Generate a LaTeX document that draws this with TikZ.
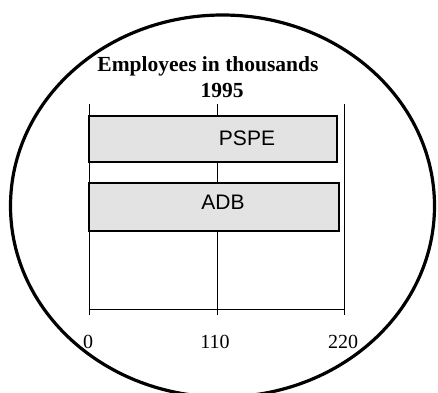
\documentclass[tikz,border=0pt]{standalone}
\usepackage{fontspec}
\setmainfont{Liberation Serif}
\newfontfamily\arialfont{Liberation Sans}
\usepackage{xcolor}
\usepackage{tikz}

\definecolor{barfill}{gray}{0.89}
\tikzset{
  grid line/.style={line width=0.6pt},
  bar/.style={draw, line width=1.1pt, fill=barfill},
  barlabel/.style={font=\arialfont\fontsize{21}{24}\selectfont},
  ticklabel/.style={anchor=base, font=\fontsize{20}{24}\selectfont},
  titlelabel/.style={anchor=base, font=\bfseries\fontsize{21.5}{25}\selectfont},
}

\begin{document}
\begin{tikzpicture}[x=1pt,y=1pt]
\useasboundingbox (0,0) rectangle (438,392);
\clip (0,0) rectangle (438,392);
% outer ellipse
\draw[line width=3.2pt] (222.5,186) ellipse (212 and 191);
% title
\node[titlelabel] (title) at (208,321) {Employees in thousands};
\node[titlelabel] (year) at (222,295) {1995};
% grid lines and axis
\draw[grid line] (89,288) -- (89,77);
\draw[grid line] (217,288) -- (217,77);
\draw[grid line] (344,288) -- (344,77);
\draw[grid line] (89,83) -- (344,83);
% bars
\draw[bar] (89,276) rectangle (337,230);
\node[barlabel] (pspe) at (247,254) {PSPE};
\draw[bar] (89,209) rectangle (339,161);
\node[barlabel] (adb) at (223,190) {ADB};
% tick labels
\node[ticklabel] (t0) at (88,44) {0};
\node[ticklabel] (t110) at (215,44) {110};
\node[ticklabel] (t220) at (343,44) {220};
\end{tikzpicture}
\end{document}
